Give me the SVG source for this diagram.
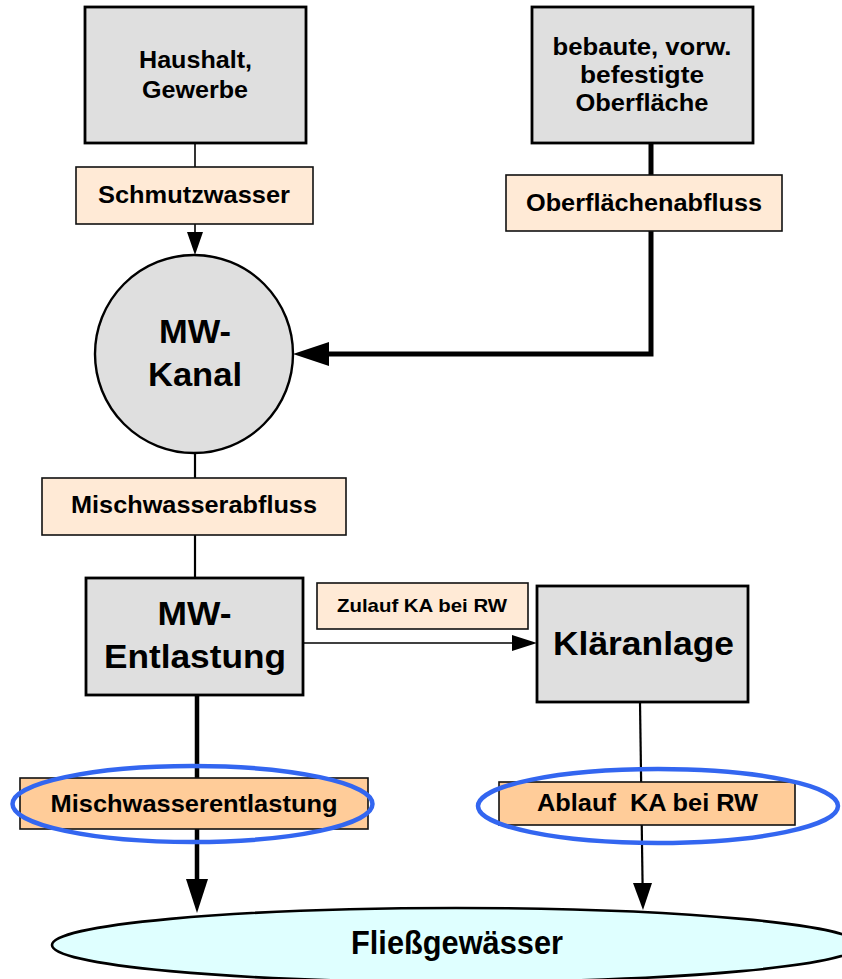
<svg xmlns="http://www.w3.org/2000/svg" width="842" height="979" viewBox="0 0 842 979">
<defs>
<style>
.grey{fill:#DFDFDF;stroke:#000;stroke-width:2.8}
.peach{fill:#FFEAD6;stroke:#111;stroke-width:1.6}
.orange{fill:#FFCC99;stroke:#111;stroke-width:1.6}
.blue{fill:none;stroke:#3366F0;stroke-width:4.5}
.t{font-family:"Liberation Sans",Arial,sans-serif;font-weight:bold;fill:#000;text-anchor:middle}
.s24{font-size:24px}
.s34{font-size:34px}
.s19{font-size:19px}
.thin{fill:none;stroke:#000;stroke-width:1.6}
.med{fill:none;stroke:#000;stroke-width:2.2}
.thick{fill:none;stroke:#000;stroke-width:5}
</style>
</defs>
<rect width="842" height="979" fill="#fff"/>
<g id="connectors">
<line class="thin" x1="195" y1="143" x2="195" y2="167"/>
<line class="thin" x1="195" y1="224" x2="195" y2="234"/>
<polygon points="187,232 203,232 195,255" fill="#000"/>
<polyline class="thick" points="651,142 651,354 326,354"/>
<polygon points="293,354 329,342 329,366" fill="#000"/>
<line class="med" x1="195" y1="453" x2="195" y2="478"/>
<line class="med" x1="195" y1="535" x2="195" y2="578"/>
<line class="thin" x1="303" y1="643" x2="515" y2="643"/>
<polygon points="537,643 512,635 512,651" fill="#000"/>
<line class="thick" x1="197" y1="695" x2="197" y2="885" style="stroke-width:4.5"/>
<polygon points="186,879 208,879 197,913" fill="#000"/>
<line class="med" x1="640" y1="702" x2="642.6" y2="886"/>
<polygon points="633,883 652,883 643,910" fill="#000"/>
</g>
<g id="haushalt">
<rect class="grey" x="85" y="7" width="221" height="136"/>
<text class="t s24" x="195.5" y="68" textLength="113" lengthAdjust="spacingAndGlyphs">Haushalt,</text>
<text class="t s24" x="195" y="98" textLength="106" lengthAdjust="spacingAndGlyphs">Gewerbe</text>
</g>
<g id="bebaute">
<rect class="grey" x="532" y="7" width="221" height="136"/>
<text class="t s24" x="642" y="55" textLength="179" lengthAdjust="spacingAndGlyphs">bebaute, vorw.</text>
<text class="t s24" x="642" y="83" textLength="124" lengthAdjust="spacingAndGlyphs">befestigte</text>
<text class="t s24" x="642" y="111" textLength="133" lengthAdjust="spacingAndGlyphs">Oberfläche</text>
</g>
<g id="schmutzwasser">
<rect class="peach" x="76" y="167" width="237" height="57"/>
<text class="t s24" x="194" y="203" textLength="192" lengthAdjust="spacingAndGlyphs">Schmutzwasser</text>
</g>
<g id="oberflaechenabfluss">
<rect class="peach" x="506" y="175" width="276" height="56"/>
<text class="t s24" x="644" y="211" textLength="236" lengthAdjust="spacingAndGlyphs">Oberflächenabfluss</text>
</g>
<g id="mw-kanal">
<ellipse cx="194" cy="354" rx="99" ry="99" fill="#DFDFDF" stroke="#000" stroke-width="2.4"/>
<text class="t s34" x="195" y="343" textLength="72" lengthAdjust="spacingAndGlyphs">MW-</text>
<text class="t s34" x="195" y="386" textLength="94" lengthAdjust="spacingAndGlyphs">Kanal</text>
</g>
<g id="mischwasserabfluss">
<rect class="peach" x="42" y="478" width="304" height="57"/>
<text class="t s24" x="194" y="513" textLength="246" lengthAdjust="spacingAndGlyphs">Mischwasserabfluss</text>
</g>
<g id="mw-entlastung">
<rect class="grey" x="86" y="578" width="217" height="117"/>
<text class="t s34" x="194.5" y="625" textLength="74" lengthAdjust="spacingAndGlyphs">MW-</text>
<text class="t s34" x="195" y="668" textLength="182" lengthAdjust="spacingAndGlyphs">Entlastung</text>
</g>
<g id="zulauf">
<rect class="peach" x="317" y="583" width="211" height="46"/>
<text class="t s19" x="422" y="612" textLength="170" lengthAdjust="spacingAndGlyphs">Zulauf KA bei RW</text>
</g>
<g id="klaeranlage">
<rect class="grey" x="537" y="586" width="211" height="116"/>
<text class="t s34" x="643.5" y="655" textLength="181" lengthAdjust="spacingAndGlyphs">Kläranlage</text>
</g>
<g id="mischwasserentlastung">
<rect class="orange" x="20" y="778" width="348" height="51"/>
<text class="t s24" x="194" y="812" textLength="287" lengthAdjust="spacingAndGlyphs">Mischwasserentlastung</text>
<ellipse class="blue" cx="192.5" cy="804" rx="180" ry="38"/>
</g>
<g id="ablauf">
<rect class="orange" x="499" y="782" width="296" height="43"/>
<text class="t s24" x="647.5" y="811" textLength="221" lengthAdjust="spacingAndGlyphs" style="white-space:pre">Ablauf  KA bei RW</text>
<ellipse class="blue" cx="658" cy="806" rx="180" ry="37"/>
</g>
<g id="fliessgewaesser">
<ellipse cx="456" cy="945" rx="404" ry="37" fill="#DFFFFF" stroke="#000" stroke-width="2.6"/>
<text class="t" style="font-size:33px" x="457" y="954" textLength="212" lengthAdjust="spacingAndGlyphs">Fließgewässer</text>
</g>
</svg>
